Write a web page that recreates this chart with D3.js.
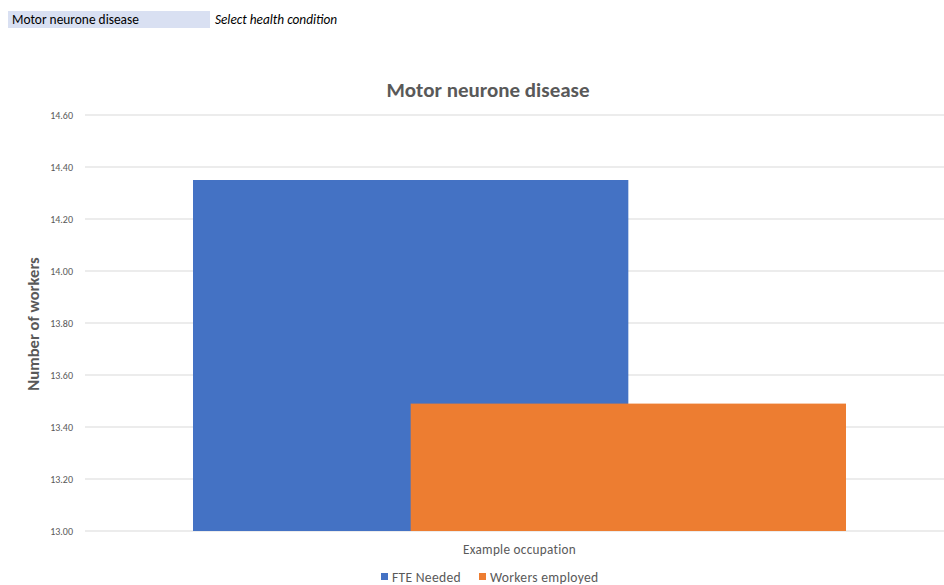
<!DOCTYPE html>
<html>
<head>
<meta charset="utf-8">
<script src="https://cdn.jsdelivr.net/npm/d3@7"></script>
<style>
  html, body { margin: 0; padding: 0; background: #fff; }
  svg { display: block; font-family: Carlito, Calibri, Lato, sans-serif; }
</style>
</head>
<body>
<svg id="chart" width="944" height="585"></svg>
<script>
// Chart data
const condition = "Motor neurone disease";
const categories = ["Example occupation"];
const seriesNames = ["FTE Needed", "Workers employed"];
const seriesColors = ["#4472c4", "#ed7d31"];
const fteNeeded = [14.35];
const workersEmployed = [13.49];
const yTicks = [13.0, 13.2, 13.4, 13.6, 13.8, 14.0, 14.2, 14.4, 14.6];

const svg = d3.select("#chart");
const textColor = "#595959";

// Selector cell at top left
svg.append("rect").attr("x", 8).attr("y", 11).attr("width", 202).attr("height", 17).attr("fill", "#d9e0f2");
svg.append("text").attr("x", 12).attr("y", 24).attr("font-size", 13.4).attr("fill", "#000").text(condition);
svg.append("text").attr("x", 215).attr("y", 24).attr("font-size", 13.3).attr("font-style", "italic").attr("fill", "#000").text("Select health condition");

// Plot area
const plot = { left: 85, right: 954, top: 115, bottom: 531 };

const y = d3.scaleLinear().domain([13.0, 14.6]).range([plot.bottom, plot.top]);
const x = d3.scaleBand().domain(categories).range([plot.left, plot.right]).paddingInner(0).paddingOuter(0.1654);

// Gridlines
svg.append("g").selectAll("line").data(yTicks).join("line")
  .attr("x1", plot.left).attr("x2", plot.right)
  .attr("y1", d => y(d)).attr("y2", d => y(d))
  .attr("stroke", "#e6e6e6").attr("stroke-width", 1.3);

// Y tick labels
svg.append("g").selectAll("text").data(yTicks).join("text")
  .attr("x", 73).attr("y", d => y(d)).attr("dy", "0.35em")
  .attr("text-anchor", "end").attr("font-size", 10).attr("fill", textColor)
  .text(d => d3.format(".2f")(d));

// Bars: two series overlapping by half a bar width
const barW = x.bandwidth() / 1.5;
const series = [fteNeeded, workersEmployed];
series.forEach((vals, si) => {
  svg.append("g").selectAll("rect").data(categories).join("rect")
    .attr("x", (c) => x(c) + si * barW / 2)
    .attr("width", barW)
    .attr("y", (c, i) => y(vals[i]))
    .attr("height", (c, i) => y(13.0) - y(vals[i]))
    .attr("fill", seriesColors[si]);
});

// Category label
svg.append("g").selectAll("text").data(categories).join("text")
  .attr("x", c => x(c) + x.bandwidth() / 2).attr("y", 554)
  .attr("text-anchor", "middle").attr("font-size", 13.2).attr("fill", textColor)
  .attr("letter-spacing", 0.3)
  .text(c => c);

// Title
svg.append("text").attr("x", 488).attr("y", 97).attr("text-anchor", "middle")
  .attr("font-size", 21).attr("font-weight", "bold").attr("fill", textColor)
  .text(condition);

// Y axis title
svg.append("text").attr("transform", "translate(39,324) rotate(-90)")
  .attr("text-anchor", "middle").attr("font-size", 16.6).attr("font-weight", "bold").attr("fill", textColor)
  .text("Number of workers");

// Legend
const legendX = [381, 479];
const legend = svg.append("g");
seriesNames.forEach((name, i) => {
  legend.append("rect").attr("x", legendX[i]).attr("y", 573).attr("width", 7).attr("height", 7).attr("fill", seriesColors[i]);
  legend.append("text").attr("x", legendX[i] + 11).attr("y", 582)
    .attr("font-size", 13.6).attr("fill", textColor).attr("letter-spacing", 0.3).text(name);
});
</script>
</body>
</html>
